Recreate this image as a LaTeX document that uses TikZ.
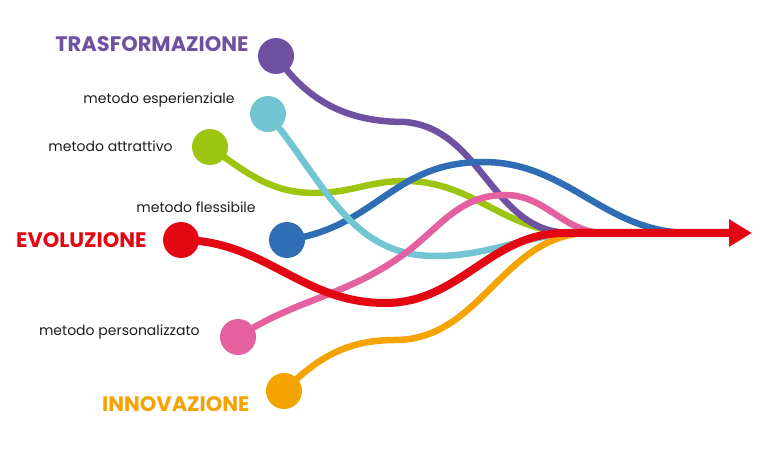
\documentclass[tikz,border=0pt]{standalone}
\usepackage{fontspec}
\setmainfont{Poppins}
\usetikzlibrary{arrows.meta, positioning}
\definecolor{cpurple}{RGB}{111, 81, 161}
\definecolor{ccyan}{RGB}{114, 197, 210}
\definecolor{cgreen}{RGB}{157, 196, 15}
\definecolor{cred}{RGB}{227, 6, 19}
\definecolor{cblue}{RGB}{47, 109, 181}
\definecolor{cpink}{RGB}{228, 96, 158}
\definecolor{corange}{RGB}{245, 163, 0}
\definecolor{ctext}{RGB}{29, 29, 27}

\begin{document}
\begin{tikzpicture}[
      x=1pt, y=1pt,
      knob/.style={circle, fill=#1, minimum size=36pt, inner sep=0pt},
      strand/.style={draw=#1, line width=6.5pt},
      lbl/.style={font=\fontsize{14}{16}\selectfont, text=ctext, inner sep=0pt},
      bigname/.style={font=\fontsize{21}{23}\selectfont\bfseries, text=#1, inner sep=0pt},
    ]
      \useasboundingbox (0,0) rectangle (768,453);
      % starting points
      \node[knob=cpurple] (trasf) at (276,397) {};
      \node[knob=ccyan]   (esper) at (268,339) {};
      \node[knob=cgreen]  (attr)  at (210,306) {};
      \node[knob=cred]    (evol)  at (181,213) {};
      \node[knob=cblue]   (fless) at (287,213) {};
      \node[knob=cpink]   (pers)  at (238,116) {};
      \node[knob=corange] (innov) at (284,62)  {};
      \coordinate (merge) at (600,220);
      \coordinate (tip)   at (752,220);
      % labels
      \node[bigname=cpurple, left=9pt of trasf, yshift=12pt]  {TRASFORMAZIONE};
      \node[lbl, left=15pt of esper, yshift=14pt]             {metodo esperienziale};
      \node[lbl, left=19pt of attr, yshift=1pt]               {metodo attrattivo};
      \node[lbl, left=13pt of fless, yshift=33pt]             {metodo flessibile};
      \node[bigname=cred, left=16pt of evol]                  {EVOLUZIONE};
      \node[lbl, left=20pt of pers, yshift=5pt]               {metodo personalizzato};
      \node[bigname=corange, left=16pt of innov, yshift=-13pt] {INNOVAZIONE};
      % strands
      \draw[strand=cgreen]  (attr.center) to[out=-35,in=180] (315,260)
            to[out=0,in=180] (405,272) to[out=0,in=180] (575,220) -- (merge);
      \draw[strand=cpurple] (trasf.center) to[out=-55,in=180] (405,331)
            to[out=-5,in=180] (570,220) -- (merge);
      \draw[strand=cblue]   (fless.center) to[out=8,in=180,looseness=1.1] (483,291)
            to[out=0,in=180] (690,220);
      \draw[strand=ccyan]   (esper.center) to[out=-50,in=180] (435,197)
            to[out=0,in=180] (585,220) -- (merge);
      \draw[strand=cpink]   (pers.center) to[out=33,in=215] (400,196)
            to[out=35,in=180] (505,258) to[out=0,in=180] (605,220);
      \draw[strand=corange] (innov.center) to[out=45,in=180] (395,113)
            to[out=0,in=180] (590,220) -- (merge);
      \draw[strand=cred, line width=8pt, -{Triangle[length=23pt,width=26pt]}]
            (evol.center) to[out=0,in=180] (385,150)
            to[out=0,in=180] (565,220) -- (tip);
    \end{tikzpicture}
\end{document}
